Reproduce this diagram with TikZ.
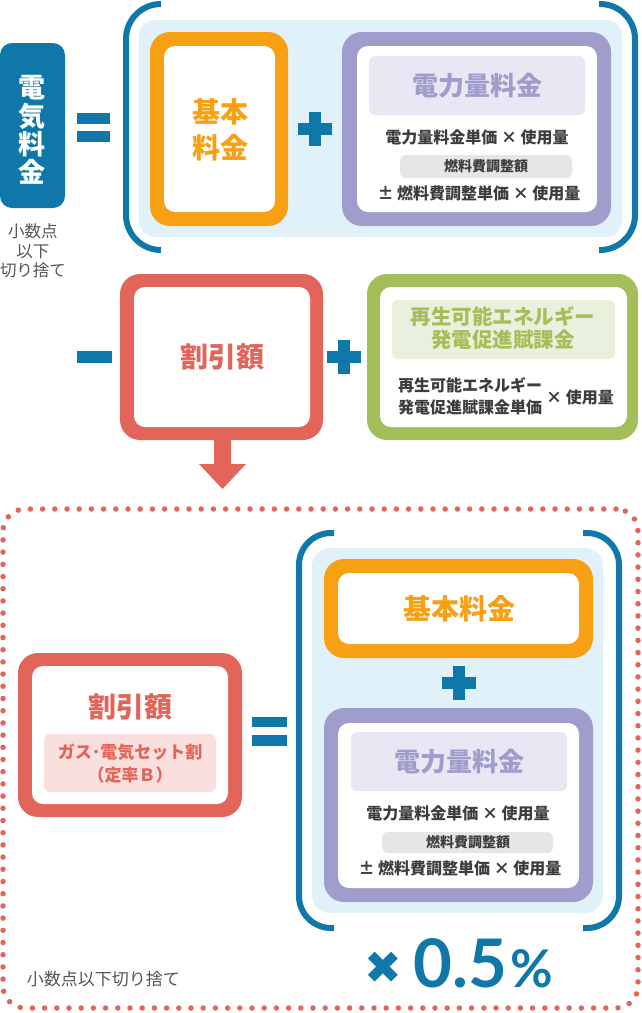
\documentclass[tikz,border=0pt]{standalone}
\usepackage{fontspec}
\setmainfont{Noto Sans CJK JP}
\newfontfamily\latofont{Lato}
\newfontfamily\symfont{DejaVu Sans}
\definecolor{cblue}{HTML}{1078A9}
\definecolor{cpanel}{HTML}{E1F1F9}
\definecolor{corange}{HTML}{F8A013}
\definecolor{cpurple}{HTML}{A09DCC}
\definecolor{clpurple}{HTML}{E9E7F4}
\definecolor{cred}{HTML}{E3655A}
\definecolor{cpink}{HTML}{F9DFDD}
\definecolor{cgreen}{HTML}{A4BF59}
\definecolor{clgreen}{HTML}{E9F0DD}
\definecolor{ctext}{HTML}{3D3D3D}
\definecolor{cnote}{HTML}{555555}
\definecolor{cpill}{HTML}{E6E6E6}
\newcommand\myrbox[6]{\node[#1, minimum width={#5-#3}, minimum height={#6-#4}] (#2) at ({(#3+#5)/2},{(#4+#6)/2}) {};}
\newcommand\myplus[2]{\fill[signfill] ({#1-17},{#2-6}) rectangle ({#1+17},{#2+6}); \fill[signfill] ({#1-6},{#2-17}) rectangle ({#1+6},{#2+17});}
\tikzset{
  shapebase/.style={rectangle, inner sep=0pt, outer sep=0pt},
  boxout/.style={shapebase, fill=#1, rounded corners=20pt},
  boxin/.style={shapebase, fill=white, rounded corners=11pt},
  panelbox/.style={shapebase, fill=cpanel, rounded corners=16pt},
  labelbox/.style={shapebase, fill=#1, rounded corners=6pt},
  dotbox/.style={shapebase, draw=cred, line width=5.5pt, line cap=round, dash pattern=on 0pt off 12.2pt, rounded corners=22pt},
  brk/.style={draw=cblue, line width=6pt},
  signfill/.style={fill=cblue},
  txt/.style={inner sep=0pt, align=center},
}
\begin{document}
\begin{tikzpicture}[x=1pt,y=-1pt]
\useasboundingbox (0,0) rectangle (641,1013);
% ---------- top row ----------
\myrbox{boxout=cblue, rounded corners=12pt}{elec}{0}{43}{65}{208}
\node[txt, font=\fontsize{27}{28.2}\selectfont\bfseries, text=white] (elect) at (32.5,130) {電\\気\\料\\金};
\node[txt, font=\fontsize{16.5}{19.5}\selectfont, text=cnote] (note1) at (33,251) {小数点\\以下\\切り捨て};
\fill[signfill] (77,113) rectangle (110,124);
\fill[signfill] (77,131) rectangle (110,142);
\myrbox{panelbox}{panel1}{139}{20}{622}{237}
\draw[brk, rounded corners=35pt] (161,4) -| (126,250) -- (161,250);
\draw[brk, rounded corners=35pt] (599,4) -| (635,250) -- (599,250);
\myrbox{boxout=corange}{kihon1}{150}{32}{288}{226}
\myrbox{boxin}{kihon1in}{164}{46}{275}{212}
\node[txt, font=\fontsize{28}{36}\selectfont\bfseries, text=corange] (kihon1t) at (220,130) {基本\\料金};
\myplus{315}{129}
\myrbox{boxout=cpurple}{ryo1}{342}{32}{611}{226}
\myrbox{boxin}{ryo1in}{357}{46}{597}{212}
\myrbox{labelbox=clpurple}{ryo1lab}{369}{56}{585}{115}
\node[txt, font=\fontsize{26}{26}\selectfont\bfseries, text=cpurple] (ryo1t) at (477,86) {電力量料金};
\node[txt, font=\fontsize{16}{16}\selectfont\bfseries, text=ctext] (ryo1a) at (477,137) {電力量料金単価 × 使用量};
\myrbox{labelbox=cpill}{ryo1pill}{400}{155}{572}{178}
\node[txt, font=\fontsize{14}{14}\selectfont\bfseries, text=ctext] (ryo1p) at (486,166) {燃料費調整額};
\node[txt, font=\fontsize{16}{16}\selectfont\bfseries, text=ctext] (ryo1b) at (479,193) {± 燃料費調整単価 × 使用量};
% ---------- middle row ----------
\fill[signfill] (77,351) rectangle (112,363);
\myrbox{boxout=cred}{wari1}{120}{274}{323}{440}
\myrbox{boxin}{wari1in}{134}{287}{310}{427}
\node[txt, font=\fontsize{28}{28}\selectfont\bfseries, text=cred] (wari1t) at (222,357) {割引額};
\myplus{344}{357}
\myrbox{boxout=cgreen}{sai}{367}{274}{638}{440}
\myrbox{boxin}{saiin}{380}{287}{627}{427}
\myrbox{labelbox=clgreen}{sailab}{392}{300}{615}{359}
\node[txt, font=\fontsize{20.5}{23}\selectfont\bfseries, text=cgreen] (sait) at (503,328.5) {再生可能エネルギー\\発電促進賦課金};
\node[txt, align=left, anchor=west, font=\fontsize{16}{22}\selectfont\bfseries, text=ctext] (saia) at (398,396) {再生可能エネルギー\\発電促進賦課金単価};
\node[txt, anchor=west, font=\fontsize{16}{16}\selectfont\bfseries, text=ctext] (saib) at (546,397) {× 使用量};
% arrow
\fill[cred] ([xshift=-7.5pt]wari1.south) -- ++(0,24) -- ++(-15,0) -- ++(23.5,25) -- ++(23.5,-25) -- ++(-15,0) -- ++(0,-24) -- cycle;
% ---------- bottom ----------
\myrbox{dotbox}{dots}{3}{509}{638}{1008}
\myrbox{boxout=cred}{wari2}{18}{653}{242}{817}
\myrbox{boxin}{wari2in}{32}{666}{228}{804}
\node[txt, font=\fontsize{28}{28}\selectfont\bfseries, text=cred] (wari2t) at (130,707) {割引額};
\myrbox{labelbox=cpink}{wari2lab}{44}{734}{216}{792}
\node[txt, font=\fontsize{17}{23}\selectfont\bfseries, text=cred] (wari2s) at (130,763.5) {ガス･電気セット割\\（定率Ｂ）};
\fill[signfill] (252,717) rectangle (287,727);
\fill[signfill] (252,735) rectangle (287,746);
\myrbox{panelbox, rounded corners=18pt}{panel2}{312}{548}{603}{913}
\draw[brk, rounded corners=32pt] (334,533) -| (299,928) -- (334,928);
\draw[brk, rounded corners=32pt] (583,533) -| (619,928) -- (583,928);
\myrbox{boxout=corange}{kihon2}{324}{559}{593}{658}
\myrbox{boxin}{kihon2in}{338}{573}{579}{644}
\node[txt, font=\fontsize{28}{28}\selectfont\bfseries, text=corange] (kihon2t) at (459,609) {基本料金};
\myplus{459}{683}
\myrbox{boxout=cpurple}{ryo2}{324}{708}{593}{902}
\myrbox{boxin}{ryo2in}{338}{723}{579}{888}
\myrbox{labelbox=clpurple}{ryo2lab}{351}{732}{567}{791}
\node[txt, font=\fontsize{26}{26}\selectfont\bfseries, text=cpurple] (ryo2t) at (459,762) {電力量料金};
\node[txt, font=\fontsize{16}{16}\selectfont\bfseries, text=ctext] (ryo2a) at (458,813) {電力量料金単価 × 使用量};
\myrbox{labelbox=cpill}{ryo2pill}{382}{832}{553}{853}
\node[txt, font=\fontsize{14}{14}\selectfont\bfseries, text=ctext] (ryo2p) at (468,842) {燃料費調整額};
\node[txt, font=\fontsize{16}{16}\selectfont\bfseries, text=ctext] (ryo2b) at (460,868) {± 燃料費調整単価 × 使用量};
\node[txt, font=\symfont\fontsize{45}{45}\selectfont, text=cblue] (tx) at (383.5,968) {✖};
\node[inner sep=0pt, anchor=base west, font=\latofont\bfseries\fontsize{67}{67}\selectfont, text=cblue] (num) at (413,987) {0.5};
\node[inner sep=0pt, anchor=base west, font=\latofont\bfseries\fontsize{52}{52}\selectfont, text=cblue] (pct) at (510,987) {\%};
\node[txt, font=\fontsize{17}{17}\selectfont, text=cnote] (note2) at (103.5,979) {小数点以下切り捨て};
\end{tikzpicture}
\end{document}
